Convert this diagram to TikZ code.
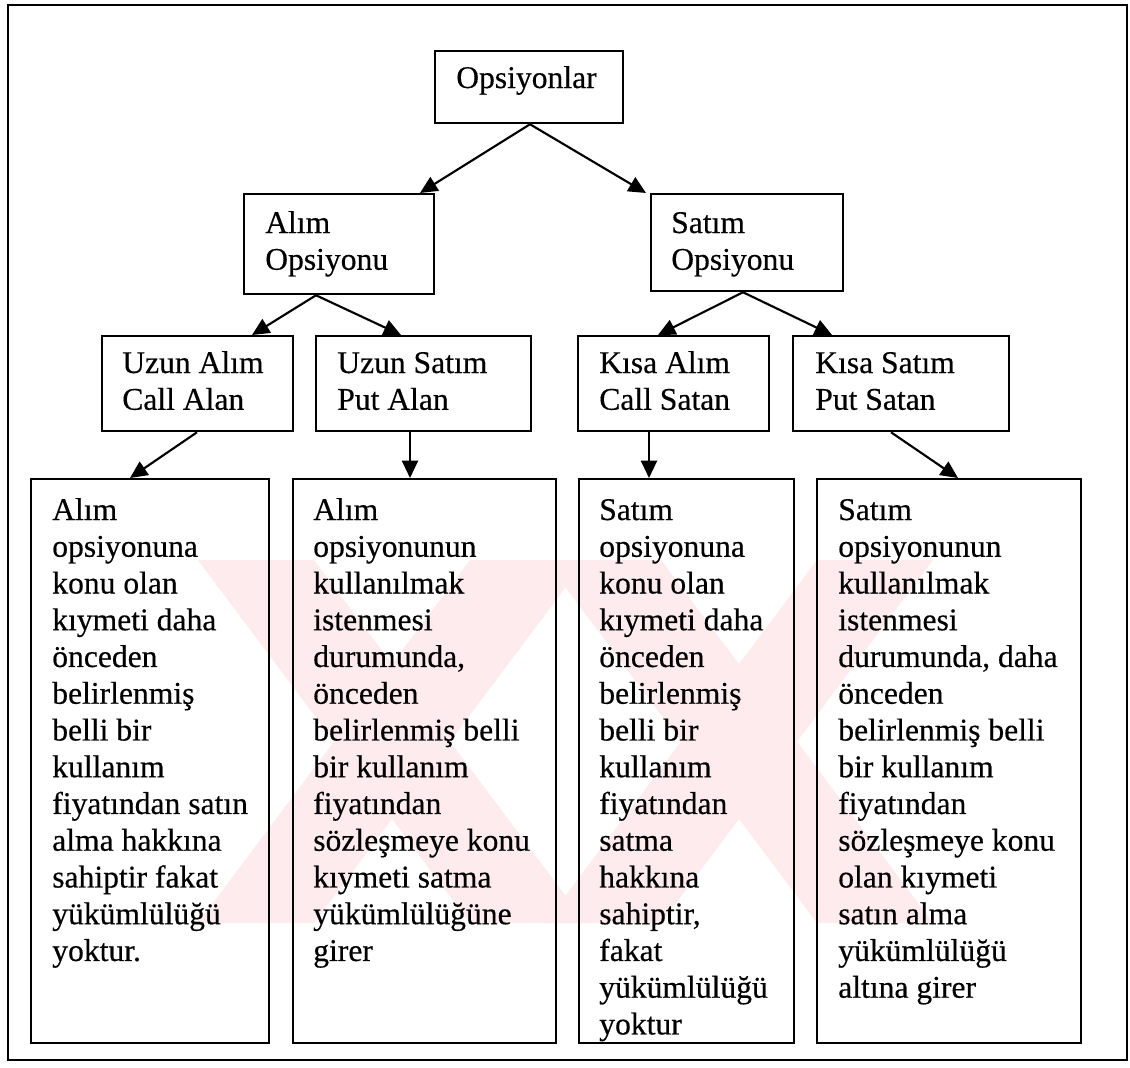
\documentclass[tikz,border=0pt]{standalone}
\usepackage{fontspec}
\setmainfont{Liberation Serif}[FakeBold=0.4]
\usetikzlibrary{arrows.meta,calc}
\definecolor{wmpink}{RGB}{253,235,238}
\tikzset{
  box/.style={draw=black, line width=1.7pt, inner sep=0pt, anchor=north west},
  txt/.style={anchor=base west, inner sep=0pt, font=\fontsize{23.7}{27.56}\selectfont},
  arr/.style={line width=1.6pt, -{Triangle[length=13pt,width=12pt]}},
  frame/.style={draw=black, line width=1.5pt},
}
% empty rectangular box: name, x1, y1, x2, y2 (pixel units, y downwards)
\newcommand{\mkbox}[5]{\node[box, minimum width={(#4-#2)*0.75pt}, minimum height={(#5-#3)*0.75pt}] (#1) at (#2,#3) {};}
% stacked lines, baseline at the first line
\newcommand{\stack}[1]{\begin{tabular}[t]{@{}l@{}}#1\end{tabular}}
% one X of the background mark, centred at x = #1
\newcommand{\wmx}[1]{%
  \fill[wmpink] ({#1-194},560) -- ({#1-78},560) -- ({#1+194},923) -- ({#1+78},923) -- cycle;
  \fill[wmpink] ({#1+78},560) -- ({#1+194},560) -- ({#1-78},923) -- ({#1-194},923) -- cycle;}
\begin{document}
\begin{tikzpicture}[x=0.75pt, y=-0.75pt]
  \useasboundingbox (0,0) rectangle (1130,1067);
  \fill[white] (0,0) rectangle (1130,1067);

  % background mark
  \wmx{392}
  \wmx{739}

  % outer frame
  \draw[frame] (8,5) rectangle (1127,1060);

  % boxes
  \mkbox{top}{434}{50}{622}{122}
  \mkbox{alim}{243}{193}{433}{293}
  \mkbox{satim}{650}{193}{842}{290}
  \mkbox{sa}{101}{335}{292}{430}
  \mkbox{sb}{315}{335}{530}{430}
  \mkbox{sc}{577}{335}{768}{430}
  \mkbox{sd}{792}{335}{1008}{430}
  \mkbox{ba}{30}{478}{268}{1042}
  \mkbox{bb}{292}{478}{555}{1042}
  \mkbox{bc}{578}{478}{793}{1042}
  \mkbox{bd}{816}{478}{1080}{1042}

  % labels
  \node[txt] (ttop) at (456,88) {Opsiyonlar};
  \node[txt] (talim) at (265,233) {\stack{Alım\\Opsiyonu}};
  \node[txt] (tsatim) at (671,233) {\stack{Satım\\Opsiyonu}};
  \node[txt] (tsa) at (122,373) {\stack{Uzun Alım\\Call Alan}};
  \node[txt] (tsb) at (337,373) {\stack{Uzun Satım\\Put Alan}};
  \node[txt] (tsc) at (599,373) {\stack{Kısa Alım\\Call Satan}};
  \node[txt] (tsd) at (815,373) {\stack{Kısa Satım\\Put Satan}};

  \node[txt] (tba) at (52,520) {\stack{Alım\\opsiyonuna\\konu olan\\kıymeti daha\\önceden\\belirlenmiş\\belli bir\\kullanım\\fiyatından satın\\alma hakkına\\sahiptir fakat\\yükümlülüğü\\yoktur.}};
  \node[txt] (tbb) at (313,520) {\stack{Alım\\opsiyonunun\\kullanılmak\\istenmesi\\durumunda,\\önceden\\belirlenmiş belli\\bir kullanım\\fiyatından\\sözleşmeye konu\\kıymeti satma\\yükümlülüğüne\\girer}};
  \node[txt] (tbc) at (599,520) {\stack{Satım\\opsiyonuna\\konu olan\\kıymeti daha\\önceden\\belirlenmiş\\belli bir\\kullanım\\fiyatından\\satma\\hakkına\\sahiptir,\\fakat\\yükümlülüğü\\yoktur}};
  \node[txt] (tbd) at (838,520) {\stack{Satım\\opsiyonunun\\kullanılmak\\istenmesi\\durumunda, daha\\önceden\\belirlenmiş belli\\bir kullanım\\fiyatından\\sözleşmeye konu\\olan kıymeti\\satın alma\\yükümlülüğü\\altına girer}};

  % connectors
  \draw[arr] ($(top.south west)+(96,0)$) -- ($(alim.north west)+(177,0)$);
  \draw[arr] ($(top.south west)+(96,0)$) -- ($(satim.north west)+(-4,0)$);
  \draw[arr] ($(alim.south west)+(73,0)$) -- ($(sa.north west)+(151,0)$);
  \draw[arr] ($(alim.south west)+(73,0)$) -- ($(sb.north west)+(86,0)$);
  \draw[arr] ($(satim.south west)+(93,0)$) -- ($(sc.north west)+(81,0)$);
  \draw[arr] ($(satim.south west)+(93,0)$) -- ($(sd.north west)+(40,0)$);
  \draw[arr] ($(sa.south west)+(96,0)$) -- ($(ba.north west)+(100,0)$);
  \draw[arr] ($(sb.south west)+(95,0)$) -- ($(bb.north west)+(118,0)$);
  \draw[arr] ($(sc.south west)+(72,0)$) -- ($(bc.north west)+(71,0)$);
  \draw[arr] ($(sd.south west)+(99,0)$) -- ($(bd.north west)+(142,0)$);
\end{tikzpicture}
\end{document}
